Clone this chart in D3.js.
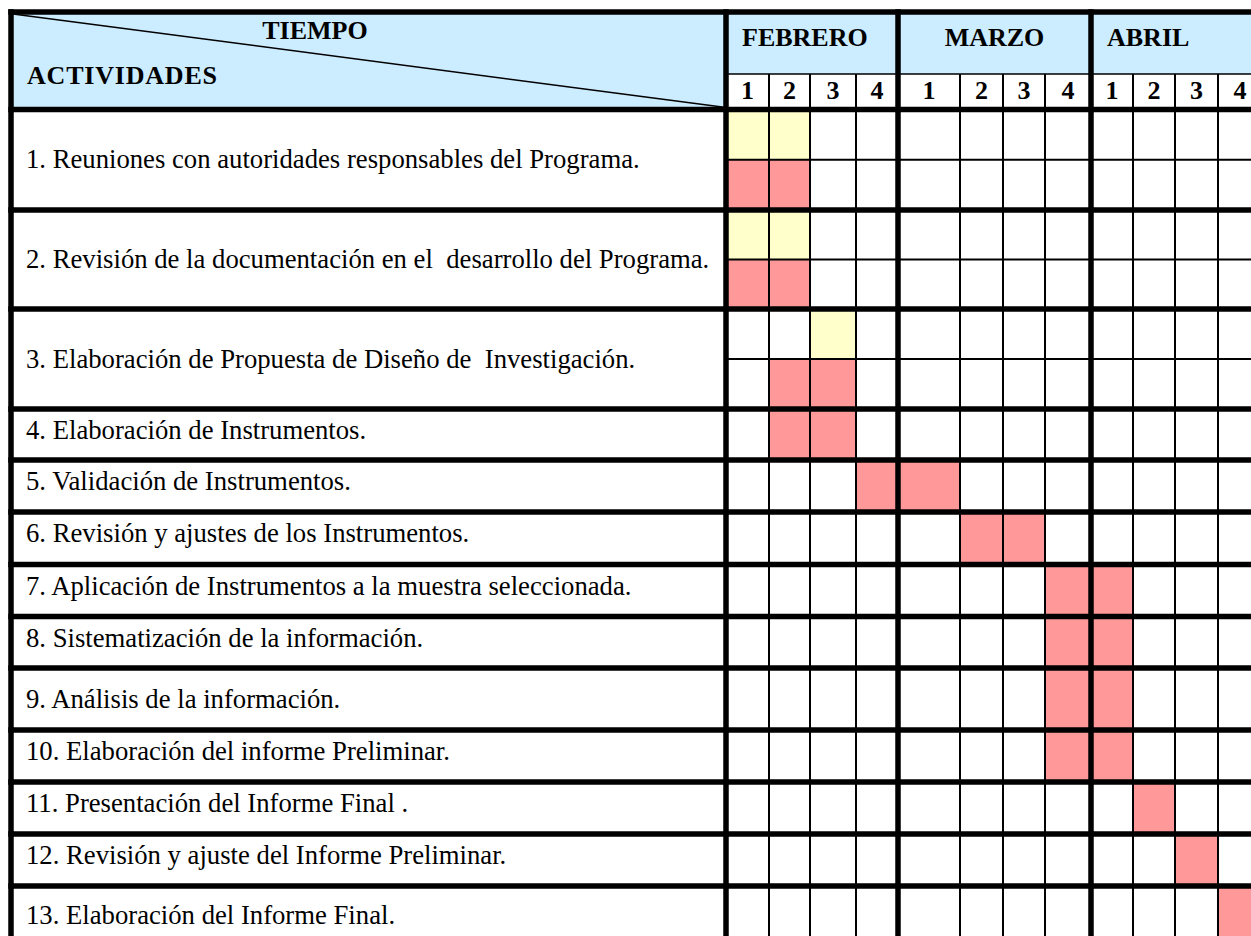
<!DOCTYPE html>
<html>
<head>
<meta charset="utf-8">
<script src="https://cdn.jsdelivr.net/npm/d3@7/dist/d3.min.js"></script>
<style>
  html, body { margin: 0; padding: 0; background: #ffffff; }
  svg { display: block; }
  text { white-space: pre; }
</style>
</head>
<body>
<script>
// ---------------- DATA ----------------
const activities = [
  "1. Reuniones con autoridades responsables del Programa.",
  "2. Revisión de la documentación en el  desarrollo del Programa.",
  "3. Elaboración de Propuesta de Diseño de  Investigación.",
  "4. Elaboración de Instrumentos.",
  "5. Validación de Instrumentos.",
  "6. Revisión y ajustes de los Instrumentos.",
  "7. Aplicación de Instrumentos a la muestra seleccionada.",
  "8. Sistematización de la información.",
  "9. Análisis de la información.",
  "10. Elaboración del informe Preliminar.",
  "11. Presentación del Informe Final .",
  "12. Revisión y ajuste del Informe Preliminar.",
  "13. Elaboración del Informe Final."
];
const months = ["FEBRERO", "MARZO", "ABRIL"];
const weekLabels = ["1", "2", "3", "4"];
const headerTime = "TIEMPO";
const headerActivities = "ACTIVIDADES";

// week numbers counted from 1 (Feb week 1) to 12 (Apr week 4)
// planned (yellow, upper half) – only the first three activities have it
const plannedWeeks = [[1, 2], [1, 2], [3]];
// executed (pink)
const executedWeeks = [
  [1, 2], [1, 2], [2, 3], [2, 3], [4, 5], [6, 7],
  [8, 9], [8, 9], [8, 9], [8, 9], [10], [11], [12]
];

// ---------------- LAYOUT (not data) ----------------
const W = 1251, H = 936;
const colEdges = [726, 769, 810, 856, 898, 960, 1003, 1045, 1091, 1133, 1175, 1218, 1262];
const monthEdges = [726, 898, 1091, 1262];
const rowEdges = [109.5, 210, 309, 409, 460, 512, 564.5, 616.5, 668, 730, 782, 834, 886, 945];
const tableLeft = 11, tableTop = 12, monthSplit = 74, headerBottom = 109.5;
const thick = 5.5, thin = 2;
const colors = { header: "#CCECFF", planned: "#FFFFCC", executed: "#FF9999", line: "#000000" };
const serif = "'Liberation Serif', 'Times New Roman', serif";
const bodySize = 26.7, headSize = 26;

// ---------------- SCALES ----------------
const weekIdx = d3.range(1, 13);
const xL = d3.scaleOrdinal().domain(weekIdx).range(colEdges.slice(0, 12));
const xR = d3.scaleOrdinal().domain(weekIdx).range(colEdges.slice(1));
const mL = d3.scaleOrdinal().domain(months).range(monthEdges.slice(0, 3));
const mR = d3.scaleOrdinal().domain(months).range(monthEdges.slice(1));
const yT = d3.scaleOrdinal().domain(activities).range(rowEdges.slice(0, 13));
const yB = d3.scaleOrdinal().domain(activities).range(rowEdges.slice(1));
const yMid = a => (yT(a) + yB(a)) / 2;

const svg = d3.select("body").append("svg").attr("width", W).attr("height", H);
svg.append("rect").attr("width", W).attr("height", H).attr("fill", "#fff");

// ---------------- HEADER BACKGROUNDS ----------------
svg.append("rect").attr("x", tableLeft).attr("y", tableTop)
  .attr("width", colEdges[0] - tableLeft).attr("height", headerBottom - tableTop)
  .attr("fill", colors.header);
svg.append("rect").attr("x", colEdges[0]).attr("y", tableTop)
  .attr("width", W - colEdges[0]).attr("height", monthSplit - tableTop)
  .attr("fill", colors.header);

// ---------------- CELLS ----------------
const plannedCells = plannedWeeks.flatMap((ws, i) => ws.map(w => ({ a: activities[i], w, i })));
const executedCells = executedWeeks.flatMap((ws, i) => ws.map(w => ({ a: activities[i], w, i })));

svg.append("g").selectAll("rect").data(plannedCells).join("rect")
  .attr("x", d => xL(d.w)).attr("width", d => xR(d.w) - xL(d.w))
  .attr("y", d => yT(d.a)).attr("height", d => yMid(d.a) - yT(d.a))
  .attr("fill", colors.planned);

svg.append("g").selectAll("rect").data(executedCells).join("rect")
  .attr("x", d => xL(d.w)).attr("width", d => xR(d.w) - xL(d.w))
  .attr("y", d => d.i < 3 ? yMid(d.a) : yT(d.a))
  .attr("height", d => d.i < 3 ? yB(d.a) - yMid(d.a) : yB(d.a) - yT(d.a))
  .attr("fill", colors.executed);

// ---------------- TEXT ----------------
svg.append("text").attr("x", 315).attr("y", 39).attr("text-anchor", "middle")
  .attr("font-family", serif).attr("font-weight", "bold").attr("font-size", headSize)
  .text(headerTime);
svg.append("text").attr("x", 27).attr("y", 84)
  .attr("font-family", serif).attr("font-weight", "bold").attr("font-size", headSize)
  .attr("textLength", 190).attr("lengthAdjust", "spacing")
  .text(headerActivities);

const monthAlign = ["start", "middle", "start"];
svg.append("g").selectAll("text").data(months).join("text")
  .attr("x", (d, i) => monthAlign[i] === "start" ? mL(d) + 16 : (mL(d) + mR(d)) / 2)
  .attr("y", 46)
  .attr("text-anchor", (d, i) => monthAlign[i])
  .attr("font-family", serif).attr("font-weight", "bold").attr("font-size", headSize)
  .text(d => d);

svg.append("g").selectAll("text").data(weekIdx).join("text")
  .attr("x", d => (xL(d) + xR(d)) / 2).attr("y", 99)
  .attr("text-anchor", "middle")
  .attr("font-family", serif).attr("font-weight", "bold").attr("font-size", headSize)
  .text(d => weekLabels[(d - 1) % 4]);

svg.append("g").selectAll("text").data(activities).join("text")
  .attr("x", 26)
  .attr("y", d => (yB(d) - yT(d) > 55) ? yMid(d) + 8.5 : yT(d) + 30)
  .attr("font-family", serif).attr("font-size", bodySize).attr("fill", "#000")
  .text(d => d);

// ---------------- GRID LINES ----------------
const g = svg.append("g").attr("stroke", colors.line).attr("fill", "none");
// diagonal
g.append("line").attr("x1", tableLeft + 2).attr("y1", tableTop + 2)
  .attr("x2", colEdges[0]).attr("y2", headerBottom - 2).attr("stroke-width", 1.5);
// month / week split
g.append("line").attr("x1", colEdges[0]).attr("x2", W + 20)
  .attr("y1", monthSplit).attr("y2", monthSplit).attr("stroke-width", 1.5);
// thin vertical lines (weeks, from week-row down)
const thinCols = weekIdx.filter(w => (w - 1) % 4 !== 0);
g.selectAll("line.tv").data(thinCols).join("line").attr("class", "tv")
  .attr("x1", d => xL(d)).attr("x2", d => xL(d))
  .attr("y1", monthSplit).attr("y2", H + 10).attr("stroke-width", thin);
// thin horizontal split lines in rows 1-3
g.selectAll("line.th").data(activities.slice(0, 3)).join("line").attr("class", "th")
  .attr("x1", colEdges[0]).attr("x2", W + 20)
  .attr("y1", d => yMid(d)).attr("y2", d => yMid(d)).attr("stroke-width", thin);
// thick horizontal row lines
g.selectAll("line.rh").data([tableTop, ...rowEdges.slice(0, 13)]).join("line").attr("class", "rh")
  .attr("x1", tableLeft - thick / 2).attr("x2", W + 20)
  .attr("y1", d => d).attr("y2", d => d).attr("stroke-width", thick);
// thick vertical lines
g.selectAll("line.tvk").data([tableLeft, ...monthEdges.slice(0, 3)]).join("line").attr("class", "tvk")
  .attr("x1", d => d).attr("x2", d => d)
  .attr("y1", tableTop - thick / 2).attr("y2", H + 10).attr("stroke-width", thick);
</script>
</body>
</html>
